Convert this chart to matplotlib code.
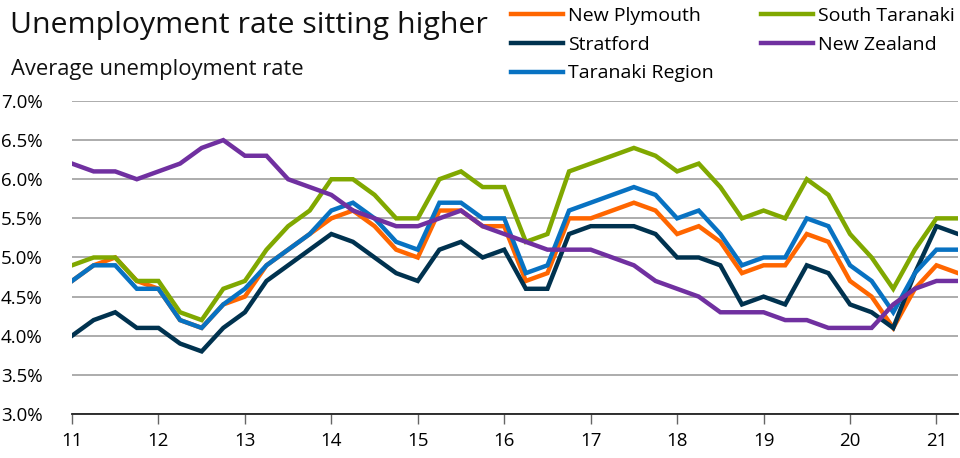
import matplotlib
matplotlib.use('Agg')
import matplotlib.pyplot as plt
import matplotlib.ticker as ticker
import numpy as np

plt.rcParams['font.family'] = ['Open Sans', 'DejaVu Sans']

# quarterly, 2011 Q1 .. 2021 Q2 (x in years since 2000)
quarters = np.arange(42) * 0.25 + 11

new_plymouth = [4.7, 4.9, 5.0, 4.7, 4.6, 4.2, 4.1, 4.4, 4.5, 4.9, 5.1, 5.3,
                5.5, 5.6, 5.4, 5.1, 5.0, 5.6, 5.6, 5.4, 5.4, 4.7, 4.8, 5.5,
                5.5, 5.6, 5.7, 5.6, 5.3, 5.4, 5.2, 4.8, 4.9, 4.9, 5.3, 5.2,
                4.7, 4.5, 4.1, 4.6, 4.9, 4.8]
south_taranaki = [4.9, 5.0, 5.0, 4.7, 4.7, 4.3, 4.2, 4.6, 4.7, 5.1, 5.4, 5.6,
                  6.0, 6.0, 5.8, 5.5, 5.5, 6.0, 6.1, 5.9, 5.9, 5.2, 5.3, 6.1,
                  6.2, 6.3, 6.4, 6.3, 6.1, 6.2, 5.9, 5.5, 5.6, 5.5, 6.0, 5.8,
                  5.3, 5.0, 4.6, 5.1, 5.5, 5.5]
stratford = [4.0, 4.2, 4.3, 4.1, 4.1, 3.9, 3.8, 4.1, 4.3, 4.7, 4.9, 5.1,
             5.3, 5.2, 5.0, 4.8, 4.7, 5.1, 5.2, 5.0, 5.1, 4.6, 4.6, 5.3,
             5.4, 5.4, 5.4, 5.3, 5.0, 5.0, 4.9, 4.4, 4.5, 4.4, 4.9, 4.8,
             4.4, 4.3, 4.1, 4.8, 5.4, 5.3]
new_zealand = [6.2, 6.1, 6.1, 6.0, 6.1, 6.2, 6.4, 6.5, 6.3, 6.3, 6.0, 5.9,
               5.8, 5.6, 5.5, 5.4, 5.4, 5.5, 5.6, 5.4, 5.3, 5.2, 5.1, 5.1,
               5.1, 5.0, 4.9, 4.7, 4.6, 4.5, 4.3, 4.3, 4.3, 4.2, 4.2, 4.1,
               4.1, 4.1, 4.4, 4.6, 4.7, 4.7]
taranaki_region = [4.7, 4.9, 4.9, 4.6, 4.6, 4.2, 4.1, 4.4, 4.6, 4.9, 5.1, 5.3,
                   5.6, 5.7, 5.5, 5.2, 5.1, 5.7, 5.7, 5.5, 5.5, 4.8, 4.9, 5.6,
                   5.7, 5.8, 5.9, 5.8, 5.5, 5.6, 5.3, 4.9, 5.0, 5.0, 5.5, 5.4,
                   4.9, 4.7, 4.3, 4.8, 5.1, 5.1]

series = [
    ('New Plymouth', new_plymouth, '#FF6600'),
    ('Stratford', stratford, '#00324F'),
    ('Taranaki Region', taranaki_region, '#0872C2'),
    ('South Taranaki', south_taranaki, '#80A800'),
    ('New Zealand', new_zealand, '#7030A0'),
]

fig = plt.figure(figsize=(9.6, 4.58), dpi=100)
ax = fig.add_axes([0.075, 0.0961, 0.923, 0.6834])

handles = []
for name, vals, col in series:
    h, = ax.plot(quarters, vals, color=col, linewidth=3.2, label=name,
                 solid_joinstyle='miter')
    handles.append(h)

ax.set_xlim(11, 21.25)
ax.set_ylim(3.0, 7.0)
ax.xaxis.set_major_locator(ticker.MultipleLocator(1))
ax.yaxis.set_major_locator(ticker.MultipleLocator(0.5))
ax.xaxis.set_major_formatter(ticker.FuncFormatter(lambda v, p: '%d' % v))
ax.yaxis.set_major_formatter(ticker.FuncFormatter(lambda v, p: '%.1f%%' % v))
ax.grid(axis='y', color='#a6a6a6', linewidth=1.3)
ax.set_axisbelow(True)
for s in ('left', 'right', 'top'):
    ax.spines[s].set_visible(False)
ax.spines['bottom'].set_color('#222222')
ax.spines['bottom'].set_linewidth(1.3)
ax.tick_params(axis='y', length=0, labelsize=13.5, pad=21)
ax.tick_params(axis='x', length=7, width=1, color='#666666', labelsize=13.5, pad=6)

fig.text(0.010, 0.975, 'Unemployment rate sitting higher', fontsize=21.8,
         va='top', ha='left', color='#111111')
fig.text(0.011, 0.871, 'Average unemployment rate', fontsize=15.8,
         va='top', ha='left', color='#111111')

fig.legend(handles, [h.get_label() for h in handles], ncol=2,
           loc='upper left', bbox_to_anchor=(0.514, 1.023), frameon=False,
           fontsize=14.0, handlelength=2.68, handletextpad=0.25,
           columnspacing=2.45, labelspacing=0.55)

fig.savefig('out.png', dpi=100)
